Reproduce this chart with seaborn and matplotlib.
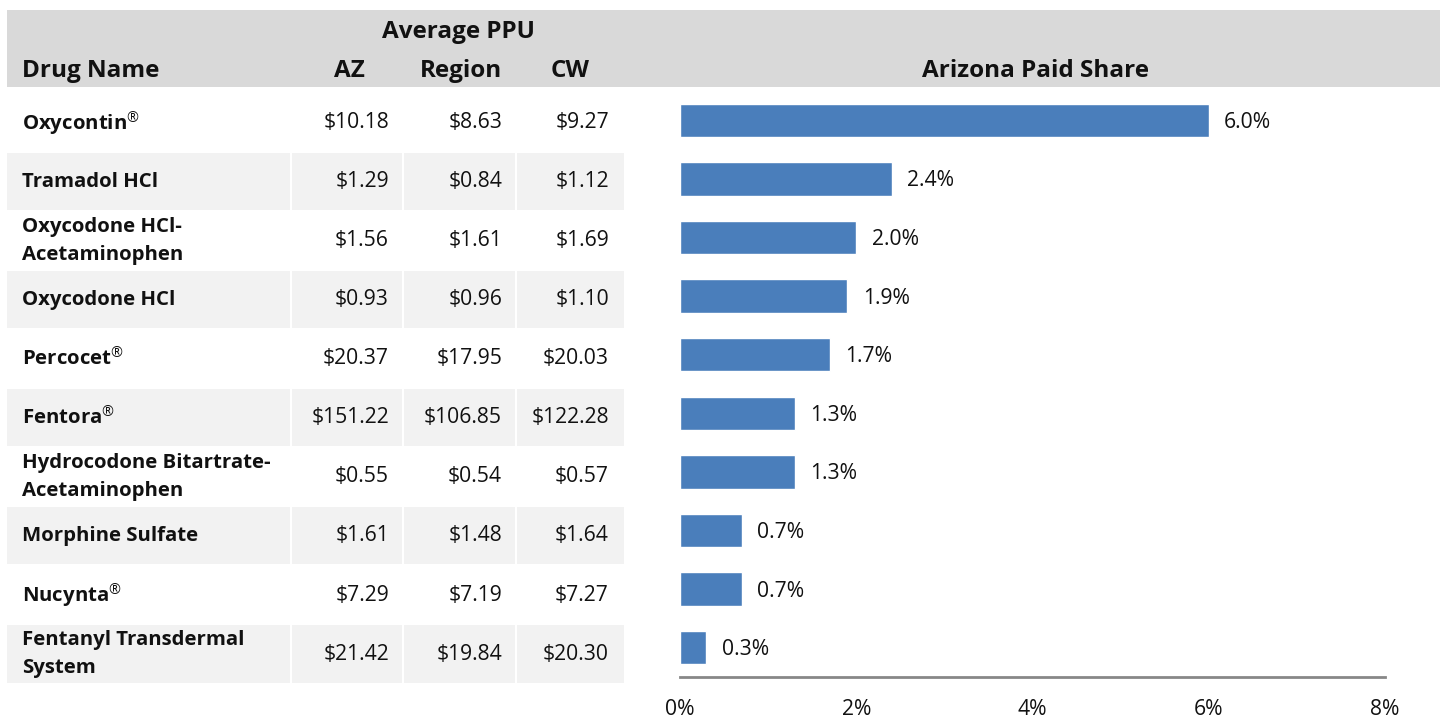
import matplotlib
matplotlib.use("Agg")
import matplotlib.pyplot as plt
from matplotlib.patches import Rectangle
import seaborn as sns
import pandas as pd

# ---------------- data ----------------
drugs = ["Oxycontin®", "Tramadol HCl", "Oxycodone HCl-\nAcetaminophen", "Oxycodone HCl",
         "Percocet®", "Fentora®", "Hydrocodone Bitartrate-\nAcetaminophen",
         "Morphine Sulfate", "Nucynta®", "Fentanyl Transdermal\nSystem"]
az = [10.18, 1.29, 1.56, 0.93, 20.37, 151.22, 0.55, 1.61, 7.29, 21.42]
region = [8.63, 0.84, 1.61, 0.96, 17.95, 106.85, 0.54, 1.48, 7.19, 19.84]
cw = [9.27, 1.12, 1.69, 1.10, 20.03, 122.28, 0.57, 1.64, 7.27, 20.30]
share = [6.0, 2.4, 2.0, 1.9, 1.7, 1.3, 1.3, 0.7, 0.7, 0.3]
col_headers = ["AZ", "Region", "CW"]
group_header = "Average PPU"
name_header = "Drug Name"
chart_title = "Arizona Paid Share"
x_ticks = [0, 2, 4, 6, 8]

# ---------------- style ----------------
sns.set_theme(style="white")
plt.rcParams['font.family'] = ['Open Sans', 'DejaVu Sans']
plt.rcParams['mathtext.fontset'] = 'custom'
plt.rcParams['mathtext.rm'] = 'Open Sans'
plt.rcParams['mathtext.it'] = 'Open Sans:italic'
plt.rcParams['mathtext.bf'] = 'Open Sans:bold'

NAME = 14.7
VAL = 15.2
HEAD = 17.5
BAR_COLOR = "#4a7ebb"
HEAD_GRAY = "#d9d9d9"
ROW_GRAY = "#f2f2f2"
TXT = "#111111"

W, H = 1440, 721
fig = plt.figure(figsize=(W / 100, H / 100), dpi=100)

# background / table axes in pixel coordinates
bg = fig.add_axes([0, 0, 1, 1])
bg.set_xlim(0, W)
bg.set_ylim(H, 0)
bg.axis("off")

# header band
bg.add_patch(Rectangle((7, 10), W - 7, 77, color=HEAD_GRAY, lw=0))
bg.text(458, 32, group_header, ha="center", va="center", fontsize=HEAD, fontweight="bold", color=TXT)
bg.text(22, 71, name_header, ha="left", va="center", fontsize=HEAD, fontweight="bold", color=TXT)
col_centers = [349, 461, 570]
for c, h in zip(col_centers, col_headers):
    bg.text(c, 71, h, ha="center", va="center", fontsize=HEAD, fontweight="bold", color=TXT)
bg.text(1035, 71, chart_title, ha="center", va="center", fontsize=HEAD, fontweight="bold", color=TXT)

# table rows
row_top0 = 93.6
pitch = 59.05
cells = [(7, 290), (292, 402), (404, 515), (517, 624)]
val_right = [389, 502, 609]
for i, name in enumerate(drugs):
    top = row_top0 + i * pitch
    cy = top + pitch / 2 - 0.5
    if i % 2 == 1:
        for x0, x1 in cells:
            bg.add_patch(Rectangle((x0, top), x1 - x0, pitch - 1.5, color=ROW_GRAY, lw=0))
    shown = name.replace("®", r"$^{\mathrm{®}}$")
    bg.text(22, cy, shown, ha="left", va="center", fontsize=NAME, fontweight="bold",
            linespacing=1.55, color=TXT)
    for xr, series in zip(val_right, (az, region, cw)):
        bg.text(xr, cy, f"${series[i]:,.2f}".replace("$", r"\$"), ha="right", va="center",
                fontsize=VAL, color=TXT)

# ---------------- bar chart ----------------
ax = fig.add_axes([680 / W, (H - 677) / H, 705 / W, 586 / H])
df = pd.DataFrame({"drug": drugs, "share": share})
sns.barplot(data=df, x="share", y="drug", orient="h", color=BAR_COLOR,
            saturation=1, width=0.57, ax=ax)
ax.set_xlim(0, 8)
ax.set_ylim(9.5, -0.5)
ax.set_yticks([])
ax.set_xlabel("")
ax.set_ylabel("")
ax.set_facecolor("none")
for s in ("top", "right", "left"):
    ax.spines[s].set_visible(False)
ax.spines["bottom"].set_color("#878787")
ax.spines["bottom"].set_linewidth(2)
ax.set_xticks(x_ticks)
ax.set_xticklabels([f"{t}%" for t in x_ticks])
ax.tick_params(axis="x", length=0, pad=16, labelsize=VAL, labelcolor=TXT)
anns = ax.bar_label(ax.containers[0], labels=[f"{v:.1f}%" for v in share],
                    padding=11, fontsize=VAL, color=TXT)
for a in anns:
    a.xyann = (a.xyann[0], -1.5)

fig.savefig("out.png", dpi=100)
